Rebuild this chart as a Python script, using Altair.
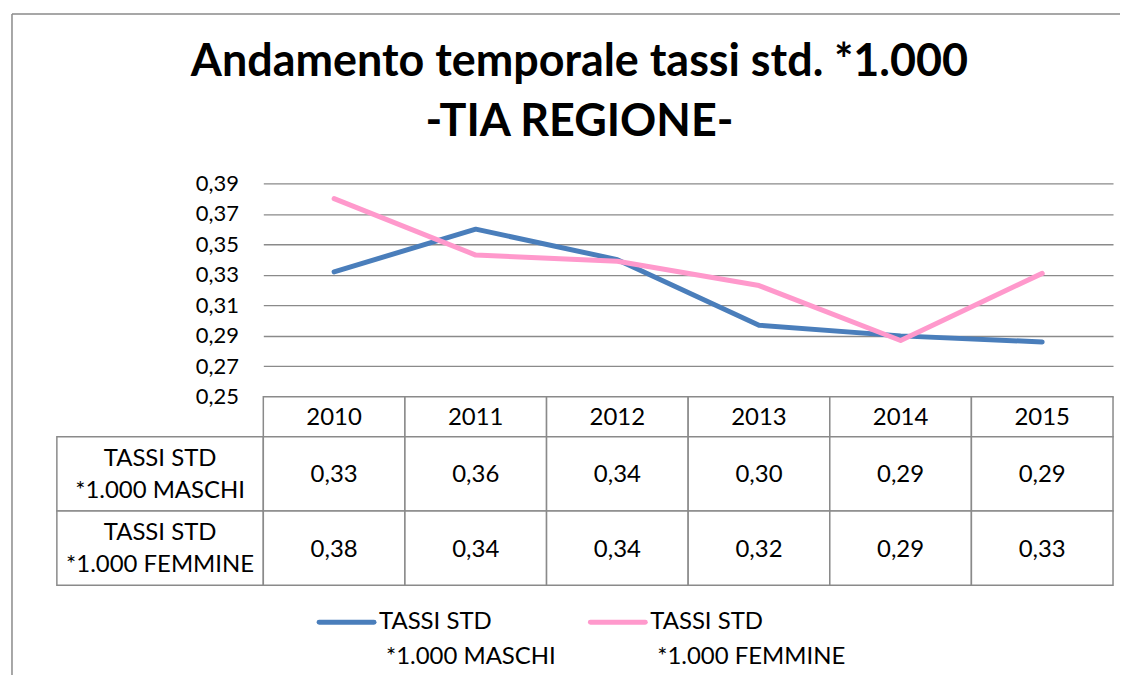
import altair as alt
import pandas as pd

# ---- data ----
years = ["2010", "2011", "2012", "2013", "2014", "2015"]
maschi = [0.332, 0.360, 0.340, 0.297, 0.290, 0.286]
femmine = [0.380, 0.343, 0.339, 0.323, 0.287, 0.331]
maschi_table = ["0,33", "0,36", "0,34", "0,30", "0,29", "0,29"]
femmine_table = ["0,38", "0,34", "0,34", "0,32", "0,29", "0,33"]
series = ["TASSI STD *1.000 MASCHI", "TASSI STD *1.000 FEMMINE"]
series_line1 = ["TASSI STD", "TASSI STD"]
series_line2 = ["*1.000 MASCHI", "*1.000 FEMMINE"]
colors = ["#4A7EBB", "#FF99CC"]
y_ticks = [0.25, 0.27, 0.29, 0.31, 0.33, 0.35, 0.37, 0.39]
title_lines = ["Andamento temporale tassi std. *1.000", "-TIA REGIONE-"]

FONT = "Lato"
W = 852
GRID = "#8a8a8a"
TXT = 24

color_enc = alt.Color("series:N", scale=alt.Scale(domain=series, range=colors), legend=None)

# ---- line chart ----
line_df = pd.DataFrame({
    "year": years * 2,
    "value": maschi + femmine,
    "series": [series[0]] * len(years) + [series[1]] * len(years),
})

lines = alt.Chart(line_df).mark_line(strokeWidth=5, strokeCap="round", strokeJoin="round").encode(
    x=alt.X("year:O", sort=years, scale=alt.Scale(type="point", padding=0.5), axis=None),
    y=alt.Y("value:Q",
            scale=alt.Scale(domain=[0.25, 0.39], nice=False, zero=False),
            axis=alt.Axis(values=y_ticks, grid=True, gridColor=GRID, gridWidth=1.3,
                          domain=False, ticks=False, title=None,
                          labelExpr="replace(format(datum.value, '.2f'), '.', ',')",
                          labelFont=FONT, labelFontSize=22, labelColor="black",
                          labelPadding=25)),
    color=color_enc,
    detail="series:N",
).properties(
    width=W, height=214,
    title=alt.TitleParams(title_lines, font=FONT, fontSize=45, fontWeight="bold",
                          color="black", anchor="middle", dx=-109, lineHeight=60,
                          offset=28),
)

# ---- table header row ----
x_band = alt.X("year:O", sort=years,
               scale=alt.Scale(type="band", paddingInner=0, paddingOuter=0), axis=None)
header_df = pd.DataFrame({"year": years})
header_base = alt.Chart(header_df).encode(x=x_band)
header = alt.layer(
    header_base.mark_rect(fill="white", stroke=GRID, strokeWidth=1.5).encode(
        y=alt.value(0), y2=alt.value(40)),
    header_base.mark_text(font=FONT, fontSize=TXT, color="black", dy=1.5).encode(
        y=alt.value(20), text="year:N"),
).properties(width=W, height=40)

# ---- table body ----
body_df = pd.DataFrame({
    "year": years * 2,
    "row": [series[0]] * len(years) + [series[1]] * len(years),
    "label": maschi_table + femmine_table,
})
y_band = alt.Y("row:N", sort=series,
               scale=alt.Scale(type="band", paddingInner=0, paddingOuter=0, domain=series),
               axis=None)
body_base = alt.Chart(body_df).encode(x=x_band, y=y_band)
cells = body_base.mark_rect(fill="white", stroke=GRID, strokeWidth=1.5)
vals = body_base.mark_text(font=FONT, fontSize=TXT, color="black", dy=1.5).encode(text="label:N")

rowlab_df = pd.DataFrame({"row": series, "l1": series_line1, "l2": series_line2})
rowlab_base = alt.Chart(rowlab_df).transform_calculate(
    txt="datum.l1 + '\\n' + datum.l2").encode(y=y_band)
rowlab_rect = rowlab_base.mark_rect(fill="white", stroke=GRID, strokeWidth=1.5).encode(
    x=alt.value(-207), x2=alt.value(0))
rowlab_text = rowlab_base.mark_text(font=FONT, fontSize=TXT, color="black",
                                    lineBreak="\n", lineHeight=32, dy=-15).encode(
    x=alt.value(-103.5), text="txt:N")

# outer chart-area border (left and top edges, as in the reference)
border_df = pd.DataFrame({"edge": ["top"]})
border_top = alt.Chart(border_df).mark_rule(color=GRID, strokeWidth=1.5).encode(
    x=alt.value(-252), x2=alt.value(859), y=alt.value(-424))
border_left = alt.Chart(border_df).mark_rule(color=GRID, strokeWidth=1.5).encode(
    x=alt.value(-252), y=alt.value(-424), y2=alt.value(239))

body = alt.layer(rowlab_rect, rowlab_text, cells, vals, border_top, border_left).properties(
    width=W, height=149)

# ---- legend ----
leg_df = pd.DataFrame({"series": series, "l1": series_line1, "l2": series_line2})
leg_x = alt.X("series:N", sort=series,
              scale=alt.Scale(type="point", domain=series, range=[83.5, 355.5], padding=0),
              axis=None)
leg_base = alt.Chart(leg_df).encode(x=leg_x)
leg_sym = leg_base.mark_point(shape="M-1,0L1,0", size=3025, filled=False, strokeWidth=5,
                              strokeCap="round", opacity=1).encode(
    y=alt.value(37), color=color_enc)
leg_t1 = leg_base.mark_text(font=FONT, fontSize=TXT, color="black", align="left", dx=32.5).encode(
    y=alt.value(37), text="l1:N")
leg_t2 = leg_base.mark_text(font=FONT, fontSize=TXT, color="black", align="left", dx=39.5).encode(
    y=alt.value(72), text="l2:N")
legend = alt.layer(leg_sym, leg_t1, leg_t2).properties(width=W, height=90)

chart = alt.vconcat(lines, header, body, legend, spacing=0, bounds="flush").properties(
    padding={"left": 2, "top": 3, "right": 0, "bottom": 0}
).resolve_scale(color="shared").configure_view(stroke="transparent")

chart.save("out.html", embed_options={"renderer": "svg", "actions": False})
